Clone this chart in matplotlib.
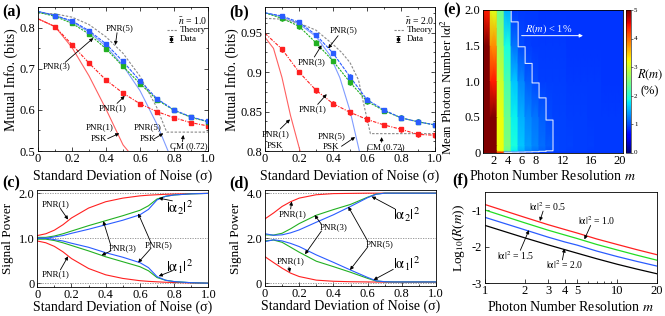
import numpy as np
import matplotlib
matplotlib.use('Agg')
import matplotlib.pyplot as plt
from matplotlib.ticker import MultipleLocator, FixedLocator, NullFormatter

plt.rcParams['font.family'] = ['Liberation Serif', 'DejaVu Serif']
plt.rcParams['mathtext.fontset'] = 'stix'
plt.rcParams['axes.linewidth'] = 0.6

# ---------------- data ----------------
sig_data = [0.0, 0.1, 0.2, 0.3, 0.4, 0.5, 0.6, 0.7, 0.8, 0.9, 1.0]
# panel (a) n=1.0
a_pnr5 = [0.840, 0.830, 0.817, 0.793, 0.761, 0.718, 0.671, 0.627, 0.600, 0.583, 0.572]
a_pnr3 = [0.838, 0.828, 0.811, 0.785, 0.749, 0.706, 0.664, 0.625, 0.599, 0.582, 0.571]
a_pnr1 = [0.822, 0.803, 0.759, 0.714, 0.673, 0.641, 0.615, 0.596, 0.581, 0.569, 0.561]
a_psk1_s = [0.0, 0.1, 0.2, 0.3, 0.4, 0.5, 0.53]
a_psk1 = [0.822, 0.803, 0.752, 0.683, 0.602, 0.515, 0.500]
a_psk5_s = [0.0, 0.1, 0.2, 0.3, 0.4, 0.5, 0.6, 0.7, 0.765]
a_psk5 = [0.840, 0.830, 0.815, 0.790, 0.755, 0.708, 0.647, 0.565, 0.500]
a_cm_s = [0.0, 0.1, 0.2, 0.3, 0.4, 0.5, 0.6, 0.7, 0.757, 1.0]
a_cm = [0.836, 0.834, 0.826, 0.808, 0.778, 0.738, 0.682, 0.605, 0.546, 0.546]
# panel (b) n=2.0
b_pnr5 = [0.975, 0.971, 0.963, 0.947, 0.924, 0.894, 0.865, 0.852, 0.842, 0.837, 0.833]
b_pnr3 = [0.975, 0.968, 0.958, 0.937, 0.914, 0.887, 0.863, 0.851, 0.842, 0.837, 0.833]
b_pnr1 = [0.949, 0.929, 0.900, 0.877, 0.860, 0.849, 0.840, 0.833, 0.8275, 0.821, 0.820]
b_psk1_s = [0.0, 0.05, 0.1, 0.15, 0.2, 0.21]
b_psk1 = [0.944, 0.930, 0.893, 0.845, 0.805, 0.797]
b_psk5_s = [0.0, 0.1, 0.2, 0.3, 0.38, 0.44, 0.5, 0.555]
b_psk5 = [0.975, 0.970, 0.961, 0.945, 0.922, 0.893, 0.851, 0.800]
b_cm_s = [0.0, 0.1, 0.2, 0.3, 0.4, 0.45, 0.5, 0.55, 0.58, 0.62, 1.0]
b_cm = [0.968, 0.967, 0.962, 0.953, 0.935, 0.925, 0.912, 0.890, 0.860, 0.822, 0.822]

# panels (c),(d): signal power
sig_pow = [0.0, 0.05, 0.1, 0.15, 0.2, 0.3, 0.4, 0.5, 0.6, 0.65, 0.7, 0.75, 0.8, 0.9, 1.0]
c_r_up = [1.06, 1.10, 1.18, 1.30, 1.45, 1.67, 1.81, 1.89, 1.94, 1.955, 1.965, 1.975, 1.98, 1.99, 1.995]
c_g_up = [1.02, 1.02, 1.05, 1.10, 1.16, 1.28, 1.39, 1.50, 1.62, 1.72, 1.87, 1.93, 1.96, 1.985, 1.995]
c_b_up = [1.00, 1.00, 1.03, 1.06, 1.11, 1.20, 1.30, 1.40, 1.52, 1.64, 1.85, 1.93, 1.96, 1.985, 1.995]
c_r_lo = [0.94, 0.90, 0.82, 0.70, 0.55, 0.33, 0.19, 0.11, 0.06, 0.045, 0.035, 0.025, 0.02, 0.01, 0.005]
c_g_lo = [0.98, 0.98, 0.95, 0.90, 0.84, 0.72, 0.59, 0.48, 0.37, 0.28, 0.13, 0.07, 0.04, 0.015, 0.005]
c_b_lo = [1.00, 1.00, 0.97, 0.94, 0.89, 0.80, 0.68, 0.58, 0.46, 0.35, 0.15, 0.07, 0.04, 0.015, 0.005]
d_r_up = [2.86, 3.12, 3.41, 3.62, 3.78, 3.93, 3.98, 3.99, 4.0, 4.0, 4.0, 4.0, 4.0, 4.0, 4.0]
d_g_up = [2.15, 2.14, 2.22, 2.42, 2.65, 3.02, 3.27, 3.50, 3.82, 3.96, 4.0, 4.0, 4.0, 4.0, 4.0]
d_b_up = [2.20, 2.13, 2.15, 2.24, 2.37, 2.71, 3.04, 3.41, 3.80, 3.95, 4.0, 4.0, 4.0, 4.0, 4.0]
d_r_lo = [1.18, 0.92, 0.67, 0.45, 0.30, 0.14, 0.09, 0.07, 0.06, 0.055, 0.05, 0.05, 0.05, 0.05, 0.05]
d_g_lo = [1.88, 1.92, 1.82, 1.60, 1.38, 0.98, 0.74, 0.49, 0.22, 0.10, 0.07, 0.06, 0.06, 0.06, 0.06]
d_b_lo = [1.85, 1.93, 1.88, 1.77, 1.63, 1.26, 0.93, 0.59, 0.26, 0.11, 0.07, 0.06, 0.06, 0.06, 0.06]

# panel (e): R(m) in %, rows = |alpha|^2, columns = m 1..20
m_cols = list(range(1, 21))
e_rows = [0.0, 0.03, 0.1, 0.5, 1.0, 1.5, 2.0]
e_R = [
    [6.0, 6.0, 4.4, 0.90, 0.88, 0.88, 0.88, 0.88, 0.88, 0.88, 0.88, 0.88, 0.88, 0.88, 0.88, 0.88, 0.88, 0.88, 0.88, 0.88],
    [6.0, 5.5, 3.2, 2.40, 1.80, 1.50, 1.30, 1.20, 1.10, 1.03, 0.96, 0.94, 0.93, 0.92, 0.92, 0.91, 0.91, 0.90, 0.90, 0.90],
    [6.0, 5.6, 3.2, 2.50, 1.90, 1.60, 1.40, 1.28, 1.17, 1.08, 0.97, 0.95, 0.94, 0.93, 0.92, 0.92, 0.91, 0.91, 0.90, 0.90],
    [6.0, 5.2, 3.2, 2.40, 1.80, 1.50, 1.30, 1.20, 1.08, 0.99, 0.95, 0.94, 0.93, 0.92, 0.92, 0.91, 0.91, 0.90, 0.90, 0.90],
    [6.0, 4.4, 3.0, 2.20, 1.60, 1.30, 1.08, 0.99, 0.93, 0.93, 0.92, 0.92, 0.91, 0.91, 0.90, 0.90, 0.90, 0.89, 0.89, 0.89],
    [5.5, 3.8, 2.7, 1.90, 1.20, 0.99, 0.92, 0.91, 0.91, 0.90, 0.90, 0.90, 0.89, 0.89, 0.89, 0.89, 0.88, 0.88, 0.88, 0.88],
    [4.4, 3.1, 2.4, 1.50, 0.90, 0.90, 0.90, 0.90, 0.89, 0.89, 0.89, 0.89, 0.88, 0.88, 0.88, 0.88, 0.88, 0.88, 0.88, 0.88],
]

# panel (f): log10 R(m)
f_m = [1, 2, 3, 4, 5, 7, 10, 14, 20]
f_05 = [-0.85, -1.20, -1.40, -1.53, -1.63, -1.79, -1.94, -2.08, -2.22]
f_10 = [-1.00, -1.35, -1.55, -1.68, -1.78, -1.94, -2.09, -2.23, -2.37]
f_15 = [-1.20, -1.54, -1.74, -1.87, -1.96, -2.12, -2.27, -2.40, -2.53]
f_20 = [-1.42, -1.76, -1.95, -2.08, -2.18, -2.33, -2.48, -2.61, -2.74]

RED = '#ff2020'
GREEN = '#22b022'
BLUE = '#2a5cff'
RED_PSK = '#ff6060'
BLUE_PSK = '#7f9cff'
GRAY = '#8a8a8a'

W, H = 665, 316
fig = plt.figure(figsize=(W / 100, H / 100), dpi=100)


def add_ax(l, t, r, b):
    return fig.add_axes([l / W, 1 - b / H, (r - l) / W, (b - t) / H])


TICK = 9.0
XLAB = 10.0


def style(ax, lab=TICK):
    ax.tick_params(which='both', direction='in', top=True, right=True, width=0.5,
                   labelsize=lab, pad=2.0)
    ax.tick_params(axis='x', pad=1.5)
    ax.tick_params(which='major', length=3)
    ax.tick_params(which='minor', length=1.6)


def labels(ax, xl, yl, xy, yx, yfs=10.0, yy=0.5, xfs=XLAB):
    ax.set_xlabel(xl, fontsize=xfs, va='center')
    ax.xaxis.set_label_coords(0.5, xy)
    ax.set_ylabel(yl, fontsize=yfs, va='center')
    ax.yaxis.set_label_coords(yx, yy)


def arrow(ax, start, tip, lw=0.6, color='k', ms=5):
    ax.annotate('', xy=tip, xytext=start,
                arrowprops=dict(arrowstyle='-|>', lw=lw, color=color,
                                mutation_scale=ms, shrinkA=0, shrinkB=0))


ANN = 6.5

# ---------------- (a) and (b) ----------------
def mi_panel(ax, pnr5, pnr3, pnr1, psk1_s, psk1, psk5_s, psk5, cm_s, cm, nbar):
    ax.plot(psk1_s, psk1, color=RED_PSK, lw=0.8)
    ax.plot(psk5_s, psk5, color=BLUE_PSK, lw=0.8)
    ax.plot(cm_s, cm, color=GRAY, lw=0.8, ls=(0, (2.2, 1.4)))
    for vals, col, ls in [(pnr1, RED, (0, (3, 1.2, 1, 1.2))), (pnr3, GREEN, (0, (2, 1))),
                          (pnr5, BLUE, (0, (3, 1)))]:
        ax.plot(sig_data, vals, color=col, lw=0.8, ls=ls)
        ax.errorbar(sig_data[1:], vals[1:], yerr=0.003, fmt='s', ms=2.5, color=col,
                    elinewidth=0.5, capsize=1.0, capthick=0.5)
    ax.set_xlim(0, 1)
    ax.xaxis.set_major_locator(MultipleLocator(0.2))
    ax.xaxis.set_minor_locator(MultipleLocator(0.1))
    ax.xaxis.set_major_formatter(plt.FuncFormatter(lambda v, p: '0' if v == 0 else f'{v:.1f}'))
    ax.text(0.995, 0.905, r'$\bar{n}$' + f' = {nbar}', transform=ax.transAxes,
            ha='right', va='center', fontsize=7)
    ax.plot([0.76, 0.82], [0.84, 0.84], transform=ax.transAxes, color=GRAY, lw=0.8,
            ls=(0, (2, 1.2)))
    ax.text(0.835, 0.84, 'Theory', transform=ax.transAxes, ha='left', va='center', fontsize=ANN)
    ax.errorbar([0.78], [0.78], yerr=[0.02], fmt='s', ms=2.0, color='k', elinewidth=0.6,
                capsize=1.5, capthick=0.6, transform=ax.transAxes)
    ax.text(0.835, 0.78, 'Data', transform=ax.transAxes, ha='left', va='center', fontsize=ANN)
    style(ax)


axa = add_ax(38, 7.3, 208, 151)
mi_panel(axa, a_pnr5, a_pnr3, a_pnr1, a_psk1_s, a_psk1, a_psk5_s, a_psk5, a_cm_s, a_cm, '1.0')
axa.set_ylim(0.5, 0.85)
axa.yaxis.set_major_locator(MultipleLocator(0.1))
axa.yaxis.set_minor_locator(MultipleLocator(0.05))
axa.yaxis.set_major_formatter(plt.FuncFormatter(lambda v, p: f'{v:.1f}'))
labels(axa, 'Standard Deviation of Noise (σ)', 'Mutual Info. (bits)', -0.172, -0.16)
axa.text(0.48, 0.80, 'PNR(5)', fontsize=ANN, ha='center', va='center')
arrow(axa, (0.465, 0.788), (0.455, 0.758))
axa.text(0.11, 0.707, 'PNR(3)', fontsize=ANN, ha='center', va='center')
arrow(axa, (0.16, 0.716), (0.325, 0.775))
axa.text(0.44, 0.604, 'PNR(1)', fontsize=ANN, ha='center', va='center')
arrow(axa, (0.465, 0.616), (0.51, 0.634))
axa.text(0.36, 0.557, 'PNR(1)', fontsize=ANN, ha='center', va='center')
axa.text(0.36, 0.529, 'PSK', fontsize=ANN, ha='center', va='center')
arrow(axa, (0.41, 0.530), (0.478, 0.543))
axa.text(0.645, 0.557, 'PNR(5)', fontsize=ANN, ha='center', va='center')
axa.text(0.645, 0.529, 'PSK', fontsize=ANN, ha='center', va='center')
arrow(axa, (0.685, 0.530), (0.737, 0.543))
axa.text(0.89, 0.512, 'CM (0.72)', fontsize=ANN, ha='center', va='center')
arrow(axa, (0.85, 0.523), (0.855, 0.539))
fig.text(2 / W, 1 - 12 / H, '(a)', fontsize=11.5, fontweight='bold', va='center', ha='left')

axb = add_ax(265, 7.3, 435, 151)
mi_panel(axb, b_pnr5, b_pnr3, b_pnr1, b_psk1_s, b_psk1, b_psk5_s, b_psk5, b_cm_s, b_cm, '2.0')
axb.set_ylim(0.8, 0.982)
axb.yaxis.set_major_locator(FixedLocator([0.8, 0.85, 0.9, 0.95]))
axb.yaxis.set_minor_locator(MultipleLocator(0.0125))
axb.yaxis.set_major_formatter(plt.FuncFormatter(
    lambda v, p: {0.8: '0.8', 0.85: '0.85', 0.9: '0.9', 0.95: '0.95'}.get(round(v, 2), '')))
labels(axb, 'Standard Deviation of Noise (σ)', 'Mutual Info. (bits)', -0.172, -0.194)
axb.text(0.465, 0.9535, 'PNR(5)', fontsize=ANN, ha='center', va='center')
arrow(axb, (0.43, 0.946), (0.372, 0.930))
axb.text(0.275, 0.913, 'PNR(3)', fontsize=ANN, ha='center', va='center')
arrow(axb, (0.29, 0.919), (0.333, 0.934))
axb.text(0.28, 0.853, 'PNR(1)', fontsize=ANN, ha='center', va='center')
arrow(axb, (0.31, 0.859), (0.363, 0.872))
axb.text(0.06, 0.821, 'PNR(1)', fontsize=ANN, ha='center', va='center')
axb.text(0.06, 0.806, 'PSK', fontsize=ANN, ha='center', va='center')
arrow(axb, (0.09, 0.828), (0.147, 0.840))
axb.text(0.39, 0.819, 'PNR(5)', fontsize=ANN, ha='center', va='center')
axb.text(0.39, 0.805, 'PSK', fontsize=ANN, ha='center', va='center')
arrow(axb, (0.45, 0.806), (0.53, 0.8176))
axb.text(0.71, 0.805, 'CM (0.72)', fontsize=ANN, ha='center', va='center')
arrow(axb, (0.686, 0.811), (0.686, 0.8176))
fig.text(229 / W, 1 - 12 / H, '(b)', fontsize=11.5, fontweight='bold', va='center', ha='left')

# ---------------- (c) and (d) ----------------
def pow_panel(ax, ups, los, top, yx):
    for h in [0, top / 2, top]:
        ax.axhline(h, color=GRAY, lw=0.6, ls=(0, (1.5, 1.5)))
    for vals, col in zip(ups, [RED, GREEN, BLUE]):
        ax.plot(sig_pow, vals, color=col, lw=0.8)
    for vals, col in zip(los, [RED, GREEN, BLUE]):
        ax.plot(sig_pow, vals, color=col, lw=0.8)
    ax.set_xlim(0, 1)
    ax.xaxis.set_major_locator(MultipleLocator(0.2))
    ax.xaxis.set_minor_locator(MultipleLocator(0.1))
    ax.xaxis.set_major_formatter(plt.FuncFormatter(lambda v, p: '0' if v == 0 else f'{v:.1f}'))
    ax.set_yticks([0, top / 2, top])
    ax.set_yticklabels(['0', f'{top / 2:.1f}', f'{top:.1f}'])
    labels(ax, 'Standard Deviation of Noise (σ)', 'Signal Power', -0.205, yx, yfs=9.5)
    style(ax)
    ax.tick_params(which='both', right=False, top=False)


axc = add_ax(37.3, 190, 208.3, 287)
pow_panel(axc, [c_r_up, c_g_up, c_b_up], [c_r_lo, c_g_lo, c_b_lo], 2.0, -0.17)
axc.set_ylim(-0.08, 2.07)
axc.text(0.108, 1.75, 'PNR(1)', fontsize=ANN, ha='center', va='center')
arrow(axc, (0.135, 1.66), (0.18, 1.415))
axc.text(0.108, 0.20, 'PNR(1)', fontsize=ANN, ha='center', va='center')
arrow(axc, (0.135, 0.30), (0.18, 0.60))
axc.text(0.50, 0.78, 'PNR(3)', fontsize=ANN, ha='center', va='center')
arrow(axc, (0.43, 0.84), (0.386, 1.38))
arrow(axc, (0.43, 0.72), (0.376, 0.62))
axc.text(0.71, 0.84, 'PNR(5)', fontsize=ANN, ha='center', va='center')
arrow(axc, (0.665, 0.90), (0.59, 1.55))
arrow(axc, (0.665, 0.78), (0.59, 0.46))
axc.text(0.83, 1.68, r'$|\mathrm{\alpha}_2|^2$', fontsize=10.5, ha='center', va='center')
arrow(axc, (0.79, 1.83), (0.71, 1.89))
axc.text(0.83, 0.38, r'$|\mathrm{\alpha}_1|^2$', fontsize=10.5, ha='center', va='center')
arrow(axc, (0.79, 0.28), (0.71, 0.16))
fig.text(2 / W, 1 - 183 / H, '(c)', fontsize=11.5, fontweight='bold', va='center', ha='left')

axd = add_ax(265, 190, 436, 286)
pow_panel(axd, [d_r_up, d_g_up, d_b_up], [d_r_lo, d_g_lo, d_b_lo], 4.0, -0.17)
axd.set_ylim(-0.12, 4.14)
axd.text(0.16, 3.07, 'PNR(1)', fontsize=ANN, ha='center', va='center')
arrow(axd, (0.15, 3.30), (0.156, 3.63))
axd.text(0.15, 0.96, 'PNR(1)', fontsize=ANN, ha='center', va='center')
arrow(axd, (0.14, 0.72), (0.146, 0.49))
axd.text(0.40, 2.47, 'PNR(3)', fontsize=ANN, ha='center', va='center')
arrow(axd, (0.33, 2.62), (0.29, 3.03))
arrow(axd, (0.33, 2.32), (0.234, 1.29))
axd.text(0.67, 1.73, 'PNR(5)', fontsize=ANN, ha='center', va='center')
arrow(axd, (0.60, 1.88), (0.487, 3.40))
arrow(axd, (0.60, 1.60), (0.497, 0.59))
axd.text(0.83, 3.04, r'$|\mathrm{\alpha}_2|^2$', fontsize=10.5, ha='center', va='center')
arrow(axd, (0.76, 3.30), (0.624, 3.85))
axd.text(0.83, 0.89, r'$|\mathrm{\alpha}_1|^2$', fontsize=10.5, ha='center', va='center')
arrow(axd, (0.75, 0.62), (0.635, 0.15))
fig.text(229 / W, 1 - 183 / H, '(d)', fontsize=11.5, fontweight='bold', va='center', ha='left')

# ---------------- (e) heatmap ----------------
axe = add_ax(483.3, 10, 622.7, 152.5)
mc = np.array(m_cols, dtype=float)
xe = np.column_stack([mc - 0.5 + 1e-3, mc + 0.5 - 1e-3]).ravel()
Rg = np.repeat(np.array(e_R), 2, axis=1)
X, Y = np.meshgrid(xe, np.array(e_rows))
pm = axe.pcolormesh(X, Y, Rg, shading='gouraud', cmap='jet', vmin=0, vmax=5, rasterized=True)
axe.contour(X, Y, Rg, levels=[1.0], colors='white', linewidths=0.8, alpha=0.85)
axe.set_xlim(0.5, 20.5)
axe.set_ylim(0, 2)
axe.set_xticks([2, 4, 6, 8, 12, 16, 20])
axe.set_yticks([0, 0.5, 1.0, 1.5, 2.0])
axe.set_yticklabels(['0', '0.5', '1.0', '1.5', '2.0'])
axe.tick_params(direction='in', length=0, labelsize=TICK, pad=2.0)
axe.tick_params(axis='x', pad=1.5)
labels(axe, r'Photon Number Resolution $m$', r'Mean Photon Number $|\mathrm{\alpha}|^2$',
       -0.165, -0.26, yfs=9.3, yy=0.46)
axe.text(9.9, 1.73, r'$R(m)$ < 1%', color='white', fontsize=7.5, ha='center', va='center')
arrow(axe, (6.0, 1.64), (14.8, 1.64), color='white', lw=0.7)
fig.text(443 / W, 1 - 10 / H, '(e)', fontsize=11.5, fontweight='bold', va='center', ha='left')

cax = add_ax(626, 10, 630.5, 152.5)
cb = fig.colorbar(pm, cax=cax, ticks=[0, 1, 2, 3, 4, 5])
cb.outline.set_linewidth(0.4)
cax.tick_params(labelsize=5, length=1.5, width=0.4, pad=1)
fig.text(650 / W, 1 - 75 / H, r'$R(m)$', fontsize=9, ha='center', va='center')
fig.text(650 / W, 1 - 91 / H, '(%)', fontsize=9, ha='center', va='center')

# ---------------- (f) ----------------
axf = add_ax(485, 191.7, 657, 283.3)
for vals, col in zip([f_05, f_10, f_15, f_20], [RED, '#22dd22', BLUE, 'k']):
    axf.plot(f_m, vals, color=col, lw=0.9)
axf.set_xscale('log')
axf.set_xlim(1, 20)
axf.set_ylim(-3.0, -0.5)
axf.set_xticks([1, 2, 3, 4, 5, 10, 20])
axf.set_xticklabels(['1', '2', '3', '4', '5', '10', '20'])
axf.xaxis.set_minor_formatter(NullFormatter())
axf.set_yticks([-1, -2, -3])
axf.set_yticklabels(['-1', '-2', '-3'])
style(axf)
axf.tick_params(which='both', right=False, top=False)
labels(axf, r'Photon Number Resolution $m$', r'Log$_{10}$($R$($m$))', -0.26, -0.15, yfs=9.5)
axf.text(3.0, -0.90, r'$|\mathrm{\alpha}|^2$ = 0.5', fontsize=7, ha='center', va='center')
arrow(axf, (2.75, -1.03), (2.6, -1.30))
axf.text(7.0, -1.29, r'$|\mathrm{\alpha}|^2$ = 1.0', fontsize=7, ha='center', va='center')
arrow(axf, (6.3, -1.42), (5.65, -1.80))
axf.text(1.72, -2.24, r'$|\mathrm{\alpha}|^2$ = 1.5', fontsize=7, ha='center', va='center')
arrow(axf, (1.85, -2.10), (2.15, -1.55))
axf.text(3.98, -2.48, r'$|\mathrm{\alpha}|^2$ = 2.0', fontsize=7, ha='center', va='center')
arrow(axf, (3.85, -2.36), (4.0, -2.05))
fig.text(452 / W, 1 - 180 / H, '(f)', fontsize=11.5, fontweight='bold', va='center', ha='left')

fig.savefig('out.png', dpi=100)
